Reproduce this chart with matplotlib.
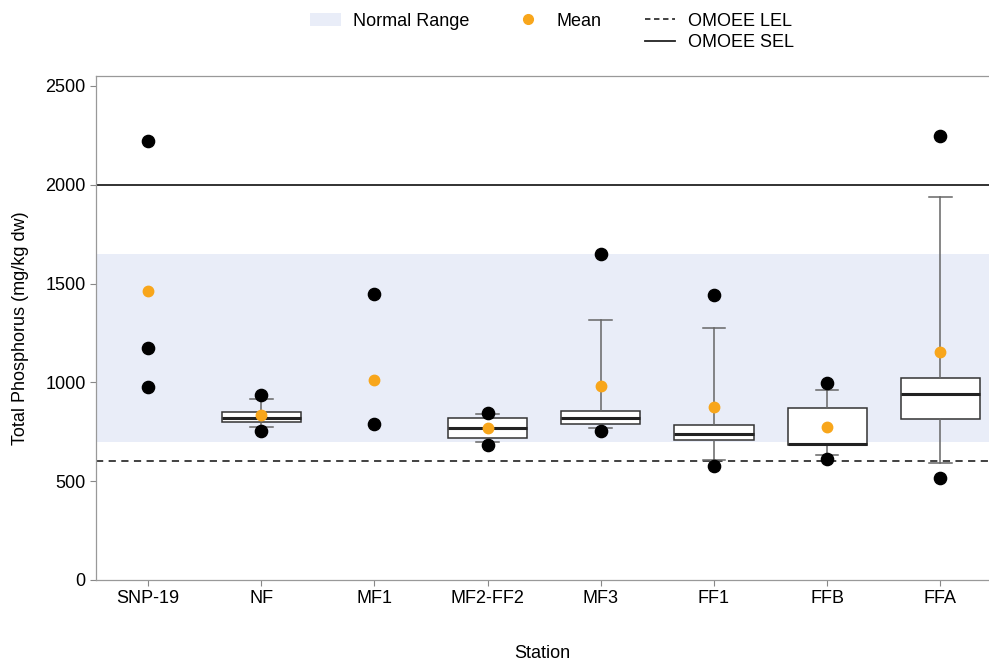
import numpy as np
import matplotlib
matplotlib.use('Agg')
import matplotlib.pyplot as plt
from matplotlib.patches import Patch
from matplotlib.lines import Line2D

# Station summary statistics (mg/kg dw)
stations=['SNP-19','NF','MF1','MF2-FF2','MF3','FF1','FFB','FFA']
mean_vals=[1460,833,1010,767,980,875,774,1153]
max_vals=[2220,934,1445,843,1650,1443,997,2247]
min_vals=[975,752,788,685,752,577,614,514]
mid_vals=[1175,None,None,None,None,None,None,None]

# Box statistics (None = too few samples for a box)
q1_vals=[None,799,None,716,791,710,682,817]
med_vals=[None,818,None,769,820,737,690,943]
q3_vals=[None,848,None,822,853,783,870,1024]
whislo_vals=[None,773,None,699,767,606,631,592]
whishi_vals=[None,914,None,838,1317,1276,960,1936]

# Guidelines
normal_lo=700
normal_hi=1650
lel=600
sel=2000

plt.rcParams['font.family']=['Liberation Sans','DejaVu Sans']
fs=13

fig=plt.figure(figsize=(9.89,6.66),dpi=100)
ax=fig.add_axes([96/989,86/666,893/989,504/666])

band_col='#e9edf8'
ax.axhspan(normal_lo,normal_hi,color=band_col,lw=0,zorder=0)
ax.axhline(sel,color='#222222',lw=1.3,zorder=1)
ax.axhline(lel,color='#333333',lw=1.3,ls=(0,(4,3)),zorder=1)

x=np.arange(len(stations))

# Boxes through bxp
stats=[]
pos=[]
for i in range(len(stations)):
    if q1_vals[i] is None:
        continue
    stats.append(dict(med=med_vals[i],q1=q1_vals[i],q3=q3_vals[i],
                      whislo=whislo_vals[i],whishi=whishi_vals[i],fliers=[]))
    pos.append(x[i])
ax.bxp(stats,positions=pos,widths=0.7,showfliers=False,patch_artist=True,
       boxprops=dict(facecolor='white',edgecolor='#333333',linewidth=1.1),
       medianprops=dict(color='#222222',linewidth=2.2),
       whiskerprops=dict(color='#666666',linewidth=1.1),
       capprops=dict(color='#666666',linewidth=1.1),capwidths=0.2,
       manage_ticks=False,zorder=2)

# Min / max and extra points
ax.plot(x,max_vals,'o',color='black',ms=8.8,zorder=4,ls='none')
ax.plot(x,min_vals,'o',color='black',ms=8.8,zorder=4,ls='none')
mx=[x[i] for i in range(len(stations)) if mid_vals[i] is not None]
my=[v for v in mid_vals if v is not None]
ax.plot(mx,my,'o',color='black',ms=8.8,zorder=4,ls='none')
ax.plot(x,mean_vals,'o',color='#f8a61b',ms=7.5,zorder=5,ls='none')

ax.set_xlim(-0.46,7.43)
ax.set_ylim(0,2550)
ax.set_xticks(x)
ax.set_xticklabels(stations,fontsize=fs)
ax.set_yticks([0,500,1000,1500,2000,2500])
ax.tick_params(axis='both',labelsize=fs,color='#888888',length=4,width=0.8)
for s in ['left','bottom','top']:
    ax.spines[s].set_color('#999999')
    ax.spines[s].set_linewidth(0.9)
ax.spines['right'].set_visible(False)

ax.set_ylabel('Total Phosphorus (mg/kg dw)',fontsize=fs,labelpad=12)
ax.set_xlabel('Station',fontsize=fs,labelpad=27)

# Legend across the top
blank=Line2D([],[],ls='none')
h_band=Patch(facecolor=band_col,edgecolor='none')
h_mean=Line2D([],[],marker='o',color='#f8a61b',ms=7,ls='none')
h_lel=Line2D([],[],color='#333333',lw=1.3,ls=(0,(3,2)))
h_sel=Line2D([],[],color='#222222',lw=1.3)
fig.legend([h_band,blank,h_mean,blank,h_lel,h_sel],
           ['Normal Range','','Mean','','OMOEE LEL','OMOEE SEL'],
           ncol=3,loc='center',bbox_to_anchor=(0.558,0.952),frameon=False,
           fontsize=fs,handlelength=1.7,handletextpad=0.7,columnspacing=2.4,
           labelspacing=0.25)

plt.savefig('out.png',dpi=100)
plt.close('all')
